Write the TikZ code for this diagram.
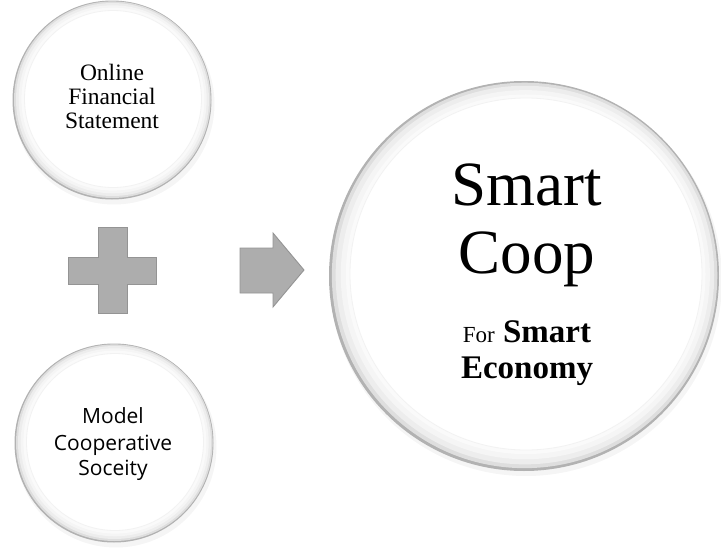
\documentclass[tikz,border=0pt]{standalone}
\usepackage{fontspec}
\setmainfont{Liberation Serif}
\newfontfamily\aptos{Open Sans}
\tikzset{
  bubble/.style={circle, fill=white, draw=black!5, line width=0.8pt, inner sep=0pt},
  graysym/.style={fill=black!32, draw=black!42, line width=0.9pt, line join=miter},
  lbl/.style={anchor=base, inner sep=0pt},
}
\begin{document}
\begin{tikzpicture}[x=1pt,y=-1pt]
\useasboundingbox (0,0) rectangle (721,549);
% bevelled rims (centre x, centre y, radius, scale)
\foreach \cx/\cy/\r/\s in {112/100/99.5/1, 114/443/99.5/1, 524/276/195/1.9}{
  \fill[black!4] (\cx+2,\cy+4) circle (\r+1);
  \fill[black!30] (\cx,\cy) circle (\r);
  \fill[black!13] (\cx+0.3*\s,\cy-0.3*\s) circle (\r-1.2*\s);
  \fill[black!7] (\cx+0.5*\s,\cy-0.5*\s) circle (\r-3*\s);
  \fill[black!4] (\cx+0.7*\s,\cy-0.7*\s) circle (\r-5.5*\s);
  \fill[black!2] (\cx+0.9*\s,\cy-0.9*\s) circle (\r-8*\s);
}
% bubbles (inner disks)
\node[bubble, minimum size=177pt] (fin) at (113,99) {};
\node[bubble, minimum size=177pt] (soc) at (115,442) {};
\node[bubble, minimum size=352pt] (coop) at (526,274) {};
% texts of the top-left bubble
\node[lbl, font=\rmfamily\fontsize{23.5}{24}\selectfont] (f1) at (112,80) {Online};
\node[lbl, font=\rmfamily\fontsize{23.5}{24}\selectfont] (f2) at (112,104) {Financial};
\node[lbl, font=\rmfamily\fontsize{23.5}{24}\selectfont] (f3) at (112,128) {Statement};
% texts of the bottom-left bubble
\node[lbl, font=\aptos\fontsize{21}{26}\selectfont] (s1) at (113,423) {Model};
\node[lbl, font=\aptos\fontsize{21}{26}\selectfont] (s2) at (113,450) {Cooperative};
\node[lbl, font=\aptos\fontsize{21}{26}\selectfont] (s3) at (113,475) {Soceity};
% texts of the big bubble
\node[lbl, font=\rmfamily\fontsize{63}{68}\selectfont] (c1) at (527,205) {Smart};
\node[lbl, font=\rmfamily\fontsize{63}{68}\selectfont] (c2) at (527,273) {Coop};
\node[lbl, font=\rmfamily\fontsize{33}{36}\selectfont] (c3) at (527,342) {{\rmfamily\mdseries\fontsize{23}{36}\selectfont For} \textbf{Smart}};
\node[lbl, font=\rmfamily\fontsize{33}{36}\selectfont\bfseries] (c4) at (527,378) {Economy};
% plus sign
\draw[graysym] (98,227) -- (127,227) -- (127,257) -- (156,257) -- (156,284) -- (127,284)
  -- (127,313) -- (98,313) -- (98,284) -- (68,284) -- (68,257) -- (98,257) -- cycle;
% arrow
\draw[graysym] (240,248) -- (273,248) -- (273,233) -- (304,270) -- (273,307) -- (273,293)
  -- (240,293) -- cycle;
\end{tikzpicture}
\end{document}
